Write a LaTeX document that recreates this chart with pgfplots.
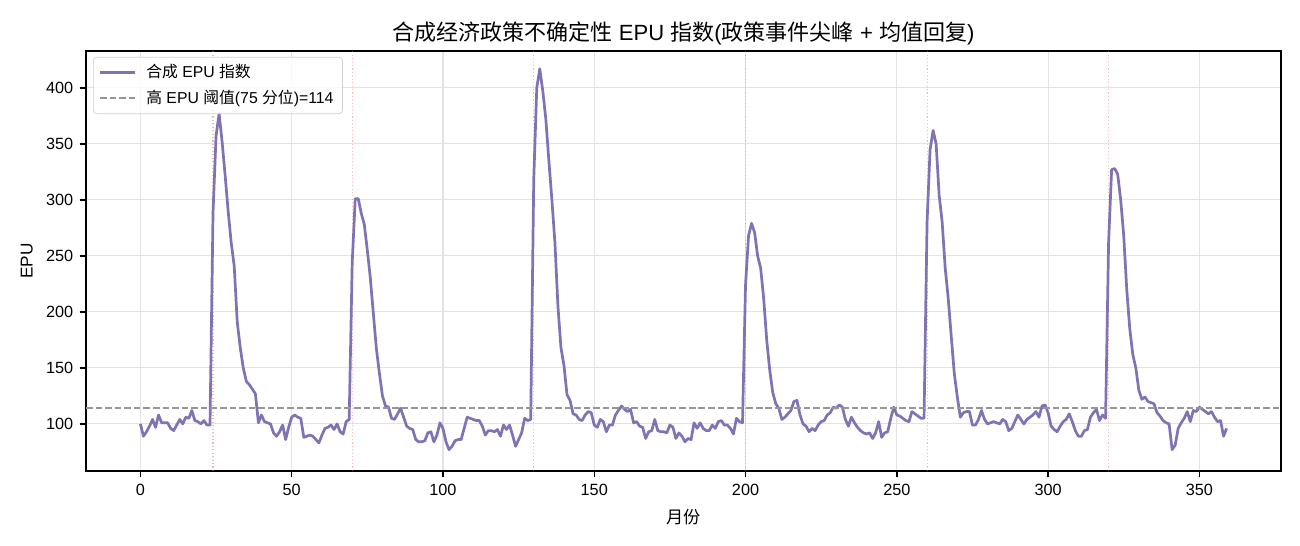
\documentclass[border=0pt]{standalone}
\usepackage{fontspec}
\setmainfont{Liberation Sans}
\newfontfamily\cjk{Noto Sans CJK SC}
\usepackage{pgfplots}
\pgfplotsset{compat=1.18}
\usepackage{pgfplotstable}

\pgfplotstableread{
x y
0 100
1 89
2 93
3 98
4 104
5 97
6 108
7 101
8 101
9 101
10 96
11 94
12 99
13 104
14 100
15 106
16 105
17 112
18 103
19 102
20 100
21 103
22 99
23 99
24 289
25 357
26 377
27 352
28 322
29 290
30 262
31 241
32 191
33 168
34 150
35 138
36 135
37 131
38 127
39 101
40 108
41 102
42 101
43 100
44 92
45 89
46 93
47 99
48 86
49 97
50 106
51 108
52 106
53 105
54 88
55 89
56 90
57 89
58 86
59 83
60 90
61 96
62 97
63 99
64 95
65 100
66 93
67 91
68 102
69 104
70 244
71 301
72 301
73 288
74 278
75 255
76 230
77 198
78 167
79 145
80 125
81 116
82 115
83 105
84 104
85 109
86 114
87 106
88 98
89 96
90 95
91 86
92 84
93 84
94 85
95 92
96 93
97 84
98 90
99 101
100 96
101 84
102 77
103 80
104 85
105 86
106 86
107 96
108 106
109 105
110 104
111 103
112 103
113 98
114 90
115 94
116 94
117 93
118 95
119 89
120 99
121 95
122 99
123 90
124 80
125 86
126 92
127 105
128 103
129 104
130 318
131 400
132 417
133 397
134 372
135 335
136 300
137 262
138 205
139 168
140 152
141 126
142 121
143 109
144 108
145 104
146 103
147 108
148 111
149 110
150 99
151 97
152 104
153 102
154 93
155 99
156 99
157 108
158 112
159 116
160 113
161 111
162 113
163 101
164 102
165 98
166 97
167 87
168 93
169 94
170 104
171 94
172 93
173 93
174 92
175 99
176 97
177 87
178 92
179 89
180 84
181 87
182 86
183 101
184 96
185 101
186 96
187 94
188 94
189 99
190 96
191 102
192 103
193 99
194 99
195 96
196 91
197 105
198 102
199 101
200 224
201 268
202 279
203 271
204 250
205 239
206 212
207 175
208 148
209 128
210 118
211 114
212 104
213 106
214 109
215 112
216 120
217 121
218 108
219 100
220 98
221 93
222 96
223 94
224 99
225 102
226 103
227 108
228 110
229 115
230 114
231 117
232 115
233 104
234 98
235 106
236 101
237 97
238 94
239 92
240 91
241 92
242 87
243 92
244 102
245 88
246 92
247 93
248 105
249 115
250 108
251 107
252 105
253 103
254 102
255 111
256 109
257 107
258 105
259 105
260 280
261 345
262 362
263 350
264 304
265 280
266 239
267 212
268 178
269 145
270 124
271 106
272 110
273 111
274 111
275 99
276 99
277 104
278 112
279 104
280 100
281 101
282 102
283 101
284 100
285 104
286 102
287 94
288 96
289 102
290 108
291 104
292 100
293 104
294 106
295 108
296 111
297 106
298 116
299 117
300 110
301 98
302 95
303 93
304 98
305 102
306 104
307 109
308 102
309 94
310 89
311 89
312 94
313 95
314 106
315 110
316 113
317 103
318 108
319 105
320 262
321 327
322 328
323 323
324 300
325 268
326 220
327 185
328 162
329 150
330 130
331 122
332 124
333 120
334 119
335 118
336 110
337 107
338 103
339 101
340 100
341 77
342 81
343 96
344 101
345 105
346 111
347 102
348 112
349 111
350 115
351 113
352 111
353 109
354 111
355 106
356 102
357 103
358 89
359 96
}\epudata

\definecolor{epu}{RGB}{129,114,179}
\definecolor{thr}{RGB}{150,150,150}
\definecolor{evt}{RGB}{240,110,110}

\begin{document}
\begin{tikzpicture}
\begin{axis}[
  name=ax,
  scale only axis,
  width=661.8pt, height=232.6pt,
  xmin=-18, xmax=377, ymin=58, ymax=433,
  xtick={0,50,...,350}, ytick={100,150,...,400},
  grid=major,
  grid style={color=black!11, line width=0.6pt},
  axis line style={line width=0.8pt},
  tick style={black, line width=0.8pt},
  tick align=outside,
  major tick length=3.5pt,
  xtick pos=bottom, ytick pos=left,
  ticklabel style={font=\fontsize{9}{11}\selectfont},
  /pgf/number format/assume math mode=true,
  xlabel={{\cjk 月份}},
  ylabel={EPU},
  label style={font=\fontsize{9.5}{11}\selectfont},
  xlabel style={at={(0.5,0)}, anchor=center, yshift=-25.5pt},
  ylabel style={at={(-0.0494,0.5)}, anchor=center},
  title={{\cjk 合成经济政策不确定性} EPU {\cjk 指数}({\cjk 政策事件尖峰} + {\cjk 均值回复})},
  title style={at={(0.5,1)}, anchor=base, yshift=0pt, font=\fontsize{12.2}{14}\selectfont},
  legend style={at={(0.0059,0.986)}, anchor=north west, draw=black!18, rounded corners=2pt,
    fill=white, fill opacity=0.8, text opacity=1, font=\fontsize{8.75}{10.5}\selectfont,
    inner xsep=3pt, inner ysep=2pt, row sep=1.5pt},
  legend cell align=left,
  legend image code/.code={\draw[#1] (0pt,0pt) -- (19.4pt,0pt); \path (22.8pt,0pt);},
]
\addplot[evt, opacity=0.5, line width=0.6pt, dash pattern=on 0.6pt off 1.3pt, forget plot] coordinates {(24,58) (24,433)};
\addplot[evt, opacity=0.5, line width=0.6pt, dash pattern=on 0.6pt off 1.3pt, forget plot] coordinates {(70,58) (70,433)};
\addplot[evt, opacity=0.5, line width=0.6pt, dash pattern=on 0.6pt off 1.3pt, forget plot] coordinates {(130,58) (130,433)};
\addplot[evt, opacity=0.5, line width=0.6pt, dash pattern=on 0.6pt off 1.3pt, forget plot] coordinates {(200,58) (200,433)};
\addplot[evt, opacity=0.5, line width=0.6pt, dash pattern=on 0.6pt off 1.3pt, forget plot] coordinates {(260,58) (260,433)};
\addplot[evt, opacity=0.5, line width=0.6pt, dash pattern=on 0.6pt off 1.3pt, forget plot] coordinates {(320,58) (320,433)};
\addplot[epu, line width=1.5pt, line join=round, mark=none] table[x=x, y=y] {\epudata};
\addlegendentry{{\cjk 合成} EPU {\cjk 指数}}
\addplot[thr, line width=1pt, dash pattern=on 3.7pt off 1.6pt, mark=none] coordinates {(-18,114) (377,114)};
\addlegendentry{{\cjk 高} EPU {\cjk 阈值}(75 {\cjk 分位})=114}
\end{axis}
\pgfresetboundingbox
\path ([xshift=-47.6pt,yshift=-41.5pt]ax.south west) rectangle ([xshift=10.5pt,yshift=28.2pt]ax.north east);
\end{tikzpicture}
\end{document}
